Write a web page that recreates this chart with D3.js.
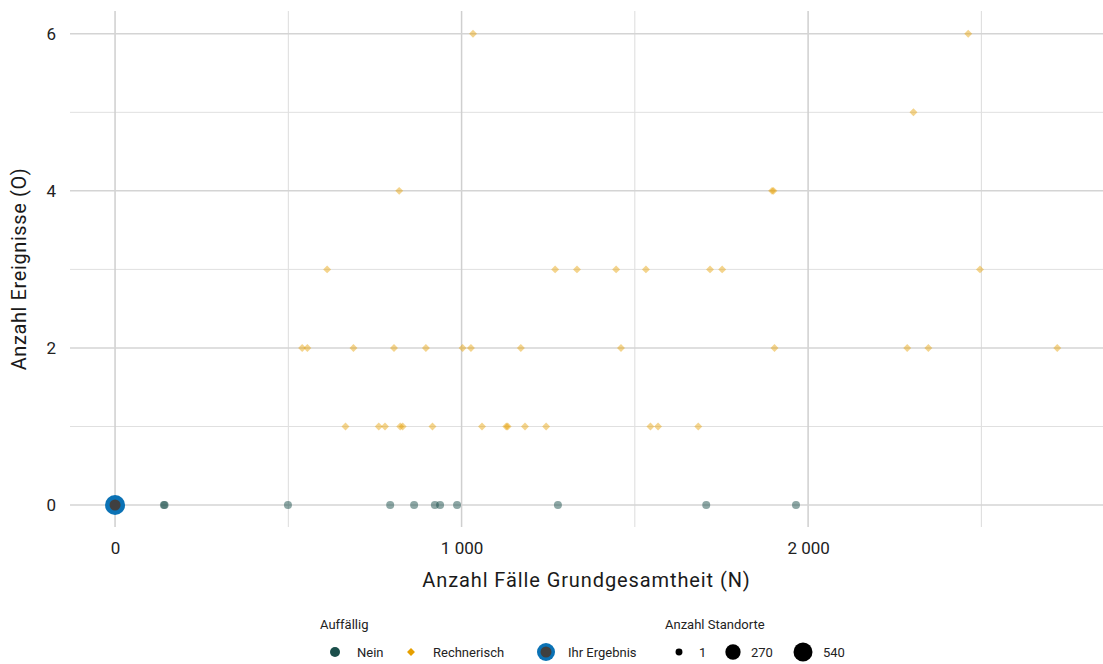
<!DOCTYPE html>
<html><head><meta charset="utf-8">
<script src="https://cdn.jsdelivr.net/npm/d3@7"></script>
<style>
body{margin:0;background:#fff;}
text{font-family:Roboto,"Noto Sans",sans-serif;}
</style></head>
<body><svg id="c" width="1103" height="664"></svg>
<script>
// ---- data ----
const neinN = [141, 143, 499, 794, 863, 923, 938, 987, 1278, 1706, 1965];
const neinO = [0, 0, 0, 0, 0, 0, 0, 0, 0, 0, 0];
const rechN = [1033, 2462, 2304, 820, 1896, 1900,
  612, 1270, 1333, 1446, 1532, 1717, 1752, 2496,
  540, 555, 688, 805, 897, 1003, 1027, 1171, 1460, 1903, 2286, 2347, 2719,
  665, 761, 779, 823, 830, 916, 1059, 1129, 1133, 1183, 1244, 1545, 1567, 1683];
const rechO = [6, 6, 5, 4, 4, 4,
  3, 3, 3, 3, 3, 3, 3, 3,
  2, 2, 2, 2, 2, 2, 2, 2, 2, 2, 2, 2, 2,
  1, 1, 1, 1, 1, 1, 1, 1, 1, 1, 1, 1, 1, 1];
const ihrN = [0];
const ihrO = [0];
const xTicks = [0, 1000, 2000];
const yTicks = [0, 2, 4, 6];
const xMinor = [500, 1500, 2500];
const yMinor = [1, 3, 5];
const legendGroups = ["Nein", "Rechnerisch", "Ihr Ergebnis"];
const sizeLegend = [1, 270, 540];

// ---- layout ----
const L = 70, R = 1103, T = 11, B = 527;
const svg = d3.select("#c");
const x = d3.scaleLinear().domain([-130, 2851]).range([L, R]);
const y = d3.scaleLinear().domain([-0.28, 6.29]).range([B, T]);
const loc = d3.formatLocale({decimal: ",", thousands: "\u00A0", grouping: [3], currency: ["", "€"]});
const fmt = loc.format(",d");
const rScale = d3.scaleSqrt().domain([0, 540]).range([3.2, 9.5]);

const cNein = "#1b4f4b", cRech = "#e69f00", cBlue = "#0b72b5", cGray = "#404040";

// grid
const g = svg.append("g");
g.selectAll(".vm").data(xMinor).join("line")
  .attr("x1", d => x(d)).attr("x2", d => x(d)).attr("y1", T).attr("y2", B)
  .attr("stroke", "#dcdcdc").attr("stroke-width", 1);
g.selectAll(".hm").data(yMinor).join("line")
  .attr("x1", L).attr("x2", R).attr("y1", d => y(d)).attr("y2", d => y(d))
  .attr("stroke", "#e0e0e0").attr("stroke-width", 1);
g.selectAll(".vM").data(xTicks).join("line")
  .attr("x1", d => x(d)).attr("x2", d => x(d)).attr("y1", T).attr("y2", B)
  .attr("stroke", "#cfcfcf").attr("stroke-width", 1.5);
g.selectAll(".hM").data(yTicks).join("line")
  .attr("x1", L).attr("x2", R).attr("y1", d => y(d)).attr("y2", d => y(d))
  .attr("stroke", "#d4d4d4").attr("stroke-width", 1.5);

// axes (labels only)
const xa = svg.append("g").attr("transform", `translate(0,${B})`)
  .call(d3.axisBottom(x).tickValues(xTicks).tickFormat(fmt).tickSize(0).tickPadding(15));
const ya = svg.append("g").attr("transform", `translate(${L},0)`)
  .call(d3.axisLeft(y).tickValues(yTicks).tickFormat(d3.format("d")).tickSize(0).tickPadding(14));
[xa, ya].forEach(a => {
  a.select(".domain").remove();
  a.selectAll("text").attr("font-size", 17).attr("fill", "#222").style("font-family", "Roboto");
});

svg.append("text").attr("x", (L + R) / 2).attr("y", 587).attr("text-anchor", "middle")
  .attr("font-size", 20).attr("letter-spacing", 0.9).attr("fill", "#1a1a1a").text("Anzahl Fälle Grundgesamtheit (N)");
svg.append("text").attr("transform", `translate(26,${(T + B) / 2}) rotate(-90)`)
  .attr("text-anchor", "middle").attr("font-size", 20).attr("letter-spacing", 0.6).attr("fill", "#1a1a1a").text("Anzahl Ereignisse (O)");

// points
const nein = neinN.map((n, i) => ({n, o: neinO[i]}));
const rech = rechN.map((n, i) => ({n, o: rechO[i]}));
svg.append("g").selectAll("circle").data(nein).join("circle")
  .attr("cx", d => x(d.n)).attr("cy", d => y(d.o)).attr("r", 4)
  .attr("fill", cNein).attr("fill-opacity", 0.5);
const diamond = d3.symbol().type(d3.symbolDiamond2).size(40);
svg.append("g").selectAll("path").data(rech).join("path")
  .attr("transform", d => `translate(${x(d.n)},${y(d.o)})`).attr("d", diamond)
  .attr("fill", cRech).attr("fill-opacity", 0.45);
const ihr = ihrN.map((n, i) => ({n, o: ihrO[i]}));
const ig = svg.append("g");
ig.selectAll(".o").data(ihr).join("circle").attr("cx", d => x(d.n)).attr("cy", d => y(d.o))
  .attr("r", 10).attr("fill", cBlue);
ig.selectAll(".i").data(ihr).join("circle").attr("cx", d => x(d.n)).attr("cy", d => y(d.o))
  .attr("r", 5.5).attr("fill", cGray);

// legend
const lg = svg.append("g").attr("font-size", 13).attr("fill", "#222");
lg.append("text").attr("x", 320).attr("y", 629).text("Auffällig");
const ly = 652;
lg.append("circle").attr("cx", 335).attr("cy", ly).attr("r", 5).attr("fill", cNein);
lg.append("text").attr("x", 357).attr("y", ly + 4.5).text(legendGroups[0]);
lg.append("path").attr("transform", `translate(411,${ly})`).attr("d", diamond).attr("fill", cRech);
lg.append("text").attr("x", 433).attr("y", ly + 4.5).text(legendGroups[1]);
lg.append("circle").attr("cx", 546).attr("cy", ly).attr("r", 9).attr("fill", cBlue);
lg.append("circle").attr("cx", 546).attr("cy", ly).attr("r", 5.5).attr("fill", cGray);
lg.append("text").attr("x", 568).attr("y", ly + 4.5).text(legendGroups[2]);
lg.append("text").attr("x", 665).attr("y", 629).text("Anzahl Standorte");
const sx = [679, 733, 803], tx = [699, 751, 823];
sizeLegend.forEach((s, i) => {
  lg.append("circle").attr("cx", sx[i]).attr("cy", ly).attr("r", rScale(s)).attr("fill", "#000");
  lg.append("text").attr("x", tx[i]).attr("y", ly + 4.5).text(s);
});
</script></body></html>
